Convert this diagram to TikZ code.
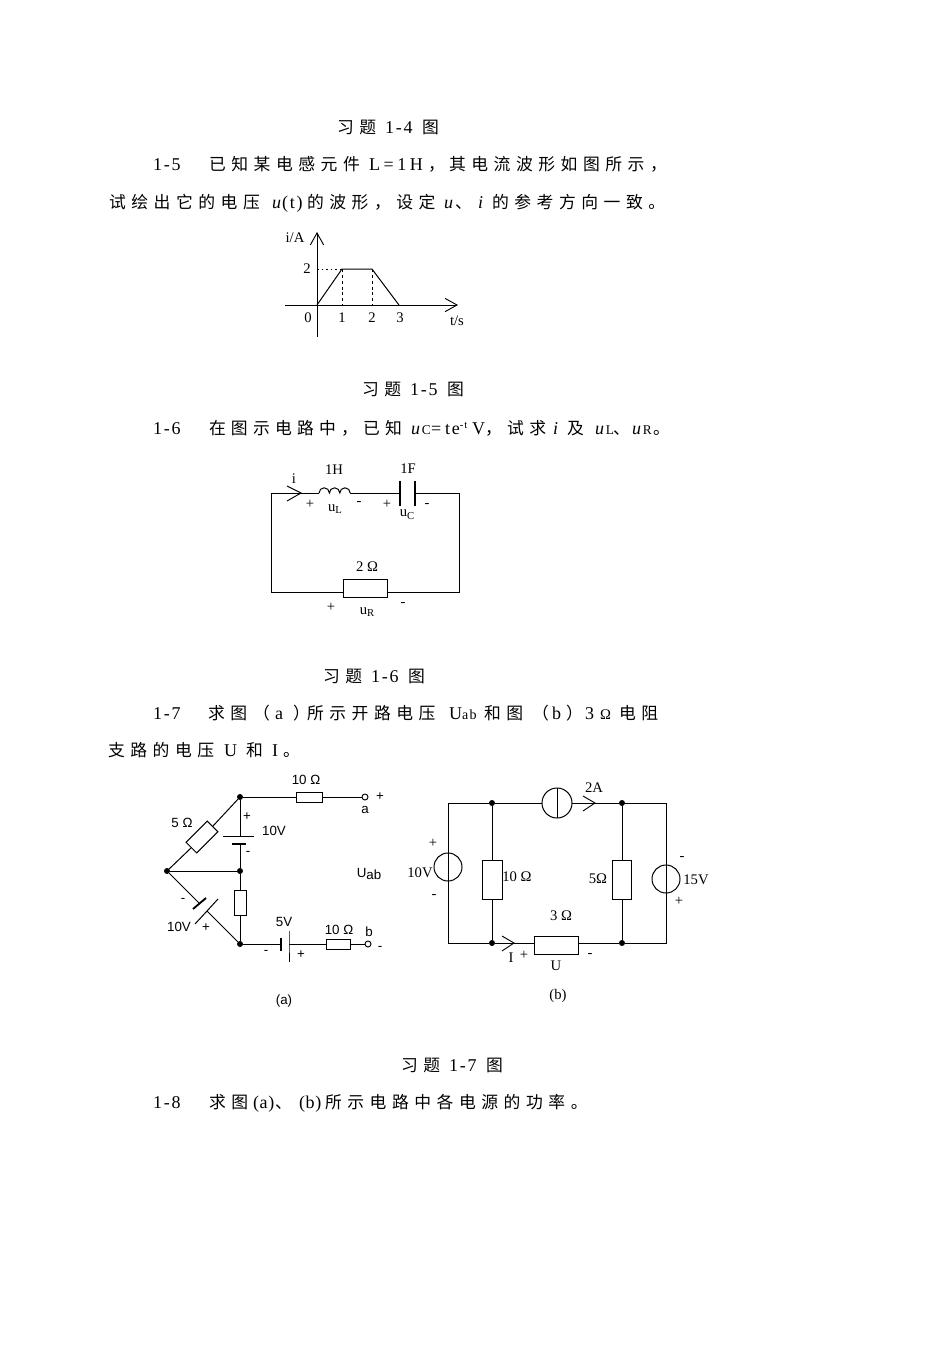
\documentclass[tikz,border=0pt]{standalone}
\usepackage{fontspec}
\setmainfont{Liberation Serif}
\newfontfamily\cjk[LetterSpace=33]{Noto Sans CJK SC}
\newfontfamily\cjkb[LetterSpace=31]{Noto Sans CJK SC}
\newfontfamily\lat[LetterSpace=10]{Liberation Serif}
\newfontfamily\latb[LetterSpace=4]{Liberation Serif}
\newfontfamily\latw[LetterSpace=20]{Liberation Serif}
\newfontfamily\narrowsans{Liberation Sans}
\usetikzlibrary{arrows.meta}
\def\px{0.75pt}
\newcommand{\cjkrun}[4]{\node[bodytext] (#1) at (#2,#3) {\fontsize{12.6}{14}\cjk #4};}
\newcommand{\cjkrunb}[4]{\node[bodytext] (#1) at (#2,#3) {\fontsize{12.6}{14}\cjkb #4};}
\newcommand{\latrun}[4]{\node[bodytext] (#1) at (#2,#3) {\fontsize{13.5}{14}\lat #4};}
\newcommand{\latrunb}[4]{\node[bodytext] (#1) at (#2,#3) {\fontsize{13.5}{14}\latb #4};}
\newcommand{\latrunw}[4]{\node[bodytext] (#1) at (#2,#3) {\fontsize{13.5}{14}\latw #4};}
\newcommand{\itrun}[4]{\node[bodytext] (#1) at (#2,#3) {\fontsize{13.5}{14}\lat\itshape #4};}
\newcommand{\lblr}[4]{\node[label serif] (#1) at (#2,#3) {#4};}
\newcommand{\lbls}[4]{\node[label sans] (#1) at (#2,#3) {#4};}
\newcommand{\sbs}[1]{\raisebox{-2pt}{\fontsize{8}{9}\selectfont #1}}
\newcommand{\smallup}[1]{\textup{\fontsize{10}{10}\selectfont #1}}
\tikzset{
  bodytext/.style={anchor=base west,inner sep=0pt,outer sep=0pt,font=\fontsize{12}{14}\selectfont},
  label serif/.style={anchor=center,inner sep=0pt,outer sep=0pt,font=\fontsize{11}{12}\selectfont},
  label sans/.style={anchor=center,inner sep=0pt,outer sep=0pt,font=\narrowsans\fontsize{10}{11}\selectfont},
  wire/.style={line width=0.75pt},
  res/.style={draw,line width=0.75pt,fill=white,rectangle,inner sep=0pt,outer sep=0pt},
  dot/.style={circle,fill=black,inner sep=0pt,outer sep=0pt,minimum size=6*\px},
  term/.style={circle,draw,line width=0.7pt,fill=white,inner sep=0pt,outer sep=0pt,minimum size=6*\px},
  src/.style={circle,draw,line width=0.75pt,inner sep=0pt,outer sep=0pt},
  thickplate/.style={line width=1.4pt},
  axis/.style={line width=0.75pt,-{Straight Barb[length=9pt,width=10pt,line width=0.7pt]}},
}
\begin{document}
\begin{tikzpicture}[x=0.75pt,y=-0.75pt]
\useasboundingbox (0,0) rectangle (952,1347);
\fill[white] (0,0) rectangle (952,1347);
% ---------- body text
\cjkrun{a1}{337}{133}{习题}\latrun{a2}{385}{133}{1-4}\cjkrun{a3}{422}{133}{图}
\latrun{b1}{153}{170}{1-5}\cjkrun{b2}{209}{170}{已知某电感元件}\latrunw{b3}{369}{170}{L=1H}\cjkrun{b3c}{428}{170}{，}\cjkrun{b4}{449}{170}{其电流波形如图所示，}
\cjkrun{c1}{109}{208}{试绘出它的电压}\itrun{c2}{272}{208}{u}\latrun{c3}{282}{208}{(t)}\cjkrun{c4}{307}{208}{的波形，设定}
\itrun{c5}{444}{208}{u}\cjkrun{c6}{455}{208}{、}\itrun{c7}{478}{208}{i}\cjkrun{c8}{492}{208}{的参考方向一致。}
\cjkrun{d1}{362}{395}{习题}\latrun{d2}{410}{395}{1-5}\cjkrun{d3}{447}{395}{图}
\latrun{e1}{153}{434}{1-6}\cjkrunb{e2}{209}{434}{在图示电路中，已知}
\itrun{e3}{411}{434}{u\smallup{C}}
\latrun{e4}{431}{434}{=}\latrun{e4b}{445}{434}{te\raisebox{4pt}{\fontsize{8}{9}\selectfont -t}}\latrun{e4c}{472}{434}{V}\cjkrun{e4d}{485}{434}{，}\cjkrun{e5}{507}{434}{试求}
\itrun{e6}{553}{434}{i}\cjkrun{e7}{567}{434}{及}
\itrun{e8}{595}{434}{u\smallup{L}}\cjkrun{e9}{613}{434}{、}
\itrun{e10}{632}{434}{u\smallup{R}}\cjkrun{e11}{653}{434}{。}
\cjkrun{f1}{323}{682}{习题}\latrun{f2}{371}{682}{1-6}\cjkrun{f3}{408}{682}{图}
\latrun{g1}{153}{719}{1-7}\cjkrun{g2}{208}{719}{求图}\cjkrun{g2b}{253}{719}{（}\latrun{g3}{275}{719}{a}\cjkrun{g4a}{293}{719}{）}\cjkrun{g4}{307}{719}{所示开路电压}
\latrun{g5}{449}{719}{U\fontsize{10.5}{11}\selectfont ab}\cjkrun{g6}{484}{719}{和图}\cjkrun{g6b}{532}{719}{（}\latrun{g7}{552}{719}{b}\cjkrun{g8}{566}{719}{）}\latrun{g9}{585}{719}{3}\node[bodytext] (g10) at (600,719) {\fontsize{11}{12}\selectfont Ω};\cjkrun{g11}{619}{719}{电阻}
\cjkrun{h1}{108}{756}{支路的电压}\latrun{h2}{224}{756}{U}\cjkrun{h3}{246}{756}{和}\latrun{h4}{272}{756}{I}\cjkrun{h5}{283}{756}{。}
\cjkrun{i1}{401}{1071}{习题}\latrun{i2}{449}{1071}{1-7}\cjkrun{i3}{486}{1071}{图}
\latrun{j1}{153}{1108}{1-8}\cjkrun{j2}{209}{1108}{求图}\latrunb{j3}{253}{1108}{(a)}\cjkrun{j4}{275}{1108}{、}\latrunb{j5}{299}{1108}{(b)}\cjkrun{j6}{325}{1108}{所示电路中各电源的功率。}

% ---------- figure 1-5
\coordinate (o) at (317,305);
\coordinate (ytop) at (317,232); \coordinate (ybot) at (317,337);
\coordinate (xl) at (285,305); \coordinate (xr) at (458,305);
\coordinate (p1) at (342,269); \coordinate (p2) at (372,269); \coordinate (p3) at (399,305);
\coordinate (q1) at (342,305); \coordinate (q2) at (372,305); \coordinate (y2) at (317,269);
\draw[axis] (ybot) -- (ytop);
\draw[axis] (xl) -- (xr);
\draw[wire] (o) -- (p1) -- (p2) -- (p3);
\draw[line width=0.6pt,dash pattern=on 2.2pt off 2.2pt] (p1) -- (q1) (p2) -- (q2);
\draw[line width=0.6pt,dash pattern=on 1.2pt off 2.2pt] (y2) -- (p1);
\lblr{w1}{295}{238}{i/A}\lblr{w2}{307}{269}{2}\lblr{w3}{308}{318}{0}\lblr{w4}{342}{318}{1}\lblr{w5}{372}{318}{2}\lblr{w6}{400}{318}{3}\lblr{w7}{457}{321}{t/s}

% ---------- figure 1-6
\coordinate (tl) at (271,493); \coordinate (tr) at (459,493);
\coordinate (bl) at (271,592); \coordinate (br) at (459,592);
\coordinate (ind1) at (319,493); \coordinate (ind2) at (350,493);
\coordinate (cap1) at (400,493); \coordinate (cap2) at (415,493);
\node[res,minimum width=44*\px,minimum height=18*\px] (r2) at (365,588) {};
\draw[wire] (ind1) -- (tl) -- (bl) -- (r2.west |- bl);
\draw[wire] (r2.east |- br) -- (br) -- (tr) -- (cap2);
\draw[wire] (ind2) -- (cap1);
\draw[wire] (ind1) arc[start angle=180,end angle=0,radius=3.9pt] arc[start angle=180,end angle=0,radius=3.9pt] arc[start angle=180,end angle=0,radius=3.9pt];
\draw[thickplate] (400,481) -- (cap1) -- (400,506);
\draw[thickplate] (415,481) -- (cap2) -- (415,506);
\coordinate (ia) at (287,486); \coordinate (ib) at (287,501); \coordinate (it) at (301,493);
\draw[line width=0.7pt] (ia) -- (it) -- (ib);
\lblr{k1}{294}{479}{i}\lblr{k2}{334}{470}{1H}\lblr{k3}{408}{469}{1F}\lblr{k4}{310}{504}{+}
\lblr{k5}{335}{509}{u\sbs{L}}\lblr{k6}{359}{503}{-}\lblr{k7}{387}{504}{+}\lblr{k8}{407}{515}{u\sbs{C}}\lblr{k9}{427}{505}{-}
\lblr{k10}{367}{567}{2 Ω}\lblr{k11}{331}{607}{+}\lblr{k12}{367}{612}{u\sbs{R}}\lblr{k13}{403}{604}{-}

% ---------- figure 1-7 (a)
\node[dot] (A) at (240,797) {};
\node[dot] (B) at (167,871) {};
\node[dot] (C) at (240,871) {};
\node[dot] (D) at (240,944) {};
\node[term] (ta) at (365,797) {};
\node[term] (tb) at (368,944) {};
\node[res,minimum width=26*\px,minimum height=10*\px] (ra) at (309,797) {};
\node[res,minimum width=24*\px,minimum height=10*\px] (rb) at (338,944) {};
\node[res,minimum width=12*\px,minimum height=25*\px] (rc) at (240,903) {};
\node[res,minimum width=30*\px,minimum height=15*\px,rotate=45] (rd) at (202,837) {};
\draw[wire] (A) -- (ra.west) (ra.east) -- (ta);
\draw[wire] (A) -- (rd.east) (rd.west) -- (B);
\draw[wire] (B) -- (C);
\draw[wire] (C) -- (rc.north) (rc.south) -- (D);
\coordinate (bat1) at (240,836); \coordinate (bat2) at (240,844);
\draw[wire] (A) -- (bat1) (bat2) -- (C);
\draw[wire] (223,836) -- (bat1) -- (254,836);
\draw[thickplate] (232,844) -- (bat2) -- (246,844);
\coordinate (bat3) at (199.5,903.5); \coordinate (bat4) at (207,911);
\draw[wire] (B) -- (bat3) (bat4) -- (D);
\draw[thickplate] (193,909) -- (bat3) -- (206,898);
\draw[wire] (195,924) -- (bat4) -- (218,899);
\coordinate (bat5) at (281,944); \coordinate (bat6) at (289,944);
\draw[wire] (D) -- (bat5) (bat6) -- (rb.west) (rb.east) -- (tb);
\draw[thickplate] (281,938) -- (bat5) -- (281,951);
\draw[wire] (289,931) -- (bat6) -- (289,962);
\lbls{m1}{306}{780}{10 Ω}\lbls{m2}{380}{797}{+}\lbls{m3}{365}{810}{a}\lbls{m4}{182}{823}{5 Ω}\lbls{m5}{247}{817}{+}\lbls{m6}{274}{831}{10V}\lbls{m7}{248}{853}{-}
\lbls{m8}{369}{874}{U\raisebox{-2pt}{ab}}\lbls{m9}{183}{900}{-}\lbls{m10}{179}{927}{10V}\lbls{m11}{206}{928}{+}\lbls{m12}{284}{922}{5V}\lbls{m13}{266}{952}{-}\lbls{m14}{301}{955}{+}\lbls{m15}{339}{930}{10 Ω}\lbls{m16}{369}{932}{b}\lbls{m17}{380}{948}{-}\lbls{m18}{284}{1001}{(a)}

% ---------- figure 1-7 (b)
\coordinate (c1) at (448,803); \coordinate (c2) at (666,803);
\coordinate (c3) at (448,943); \coordinate (c4) at (666,943);
\node[dot] (E) at (492,803) {};
\node[dot] (F) at (622,803) {};
\node[dot] (G) at (492,943) {};
\node[dot] (H) at (622,943) {};
\node[src,minimum size=30*\px] (s1) at (557,803) {};
\node[src,minimum size=28*\px] (s2) at (448,867) {};
\node[src,minimum size=28*\px] (s3) at (666,879) {};
\node[res,minimum width=20*\px,minimum height=39*\px] (r10) at (492,880) {};
\node[res,minimum width=19*\px,minimum height=39*\px] (r5) at (622,880) {};
\node[res,minimum width=44*\px,minimum height=18*\px] (r3) at (556,945) {};
\draw[wire] (s1.west) -- (E) -- (c1) -- (c3) -- (G) -- (r3.west |- G);
\draw[wire] (s1.east) -- (F) -- (c2) -- (c4) -- (H) -- (r3.east |- H);
\draw[wire] (E) -- (r10.north) (r10.south) -- (G);
\draw[wire] (F) -- (r5.north) (r5.south) -- (H);
\draw[wire] (s1.north) -- (s1.south);
\coordinate (ja) at (583,796); \coordinate (jb) at (583,811); \coordinate (jt) at (595,803);
\draw[line width=0.7pt] (ja) -- (jt) -- (jb);
\coordinate (la) at (502,936); \coordinate (lb) at (502,951); \coordinate (lt) at (514,943);
\draw[line width=0.7pt] (la) -- (lt) -- (lb);
\lblr{n1}{594}{788}{2A}\lblr{n2}{433}{843}{+}\lblr{n3}{420}{873}{10V}\lblr{n4}{434}{896}{-}\lblr{n5}{517}{877}{10 Ω}\lblr{n6}{598}{879}{5Ω}
\lblr{n7}{682}{858}{-}\lblr{n8}{696}{880}{15V}\lblr{n9}{679}{901}{+}\lblr{n10}{561}{916}{3 Ω}\lblr{n11}{511}{958}{I}\lblr{n12}{524}{955}{+}\lblr{n13}{590}{955}{-}\lblr{n14}{556}{966}{U}\lblr{n15}{558}{996}{(b)}
\end{tikzpicture}
\end{document}
